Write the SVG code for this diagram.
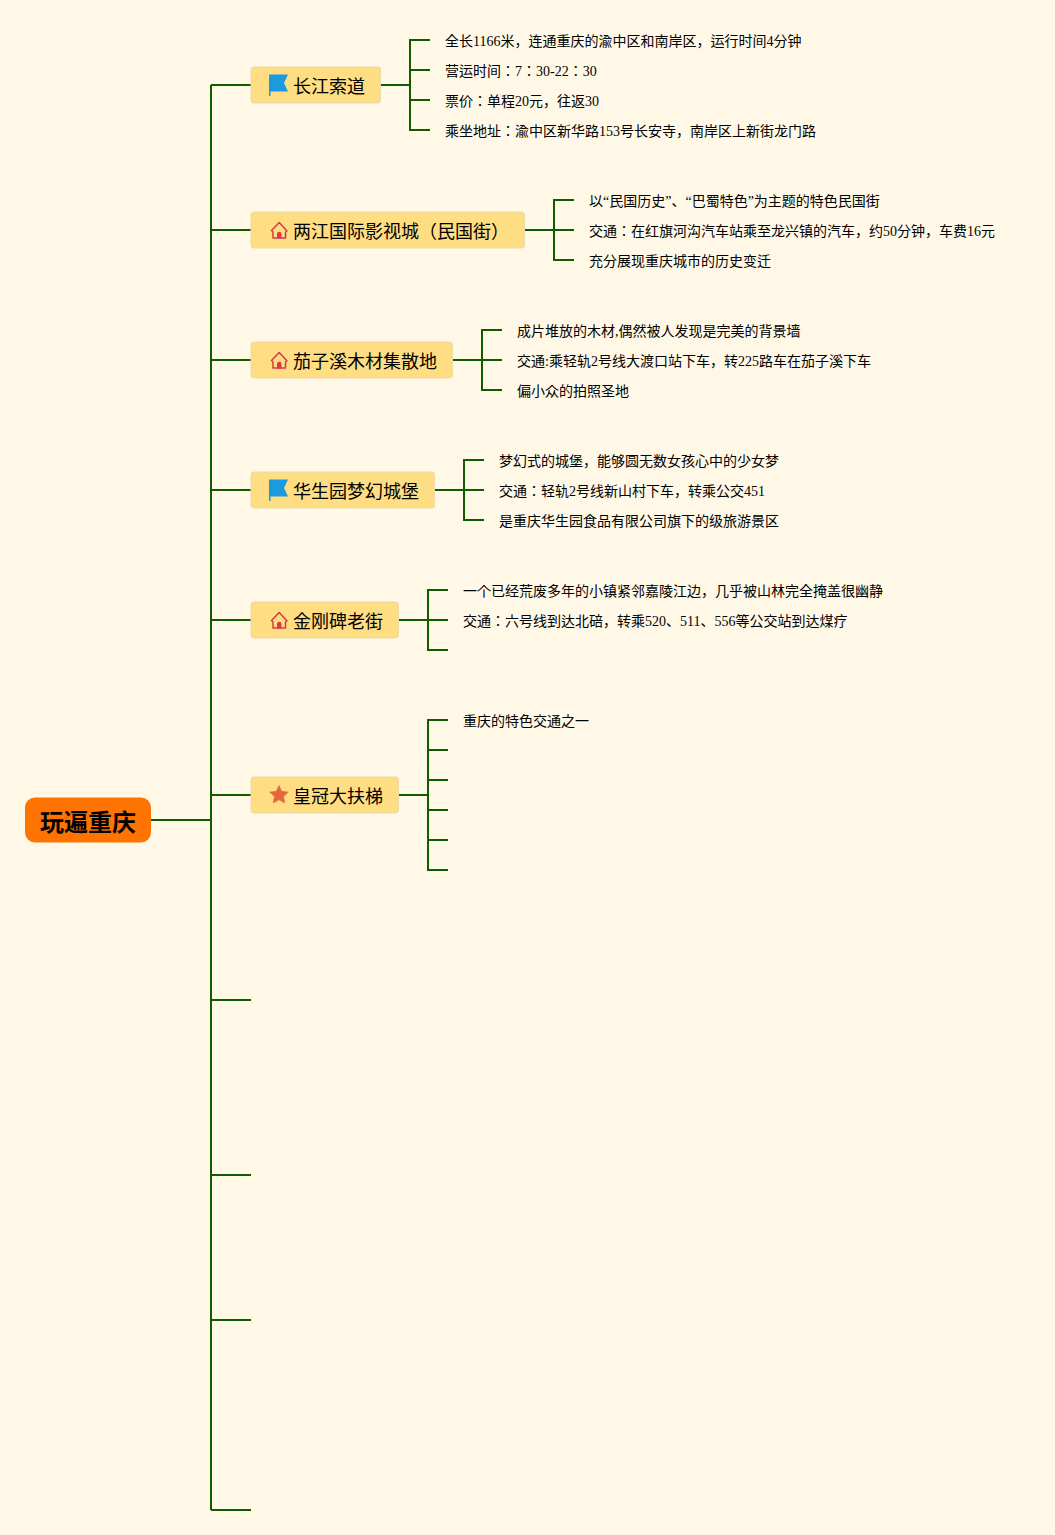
<svg xmlns="http://www.w3.org/2000/svg" width="1055" height="1535" viewBox="0 0 1055 1535">
<style>
.c{fill:none;stroke:#125c00;stroke-width:2}
.n{fill:#fedd83;stroke:#e8d9a6;stroke-width:1}
.r{fill:#ff7300}
text{font-family:"Liberation Serif","Noto Sans CJK JP",serif;fill:#000}
.t{font-size:18px;font-family:"Noto Sans CJK JP","Liberation Sans",sans-serif}
.l{font-size:14px}
.b{font-size:24px;font-weight:700;font-family:"Noto Sans CJK JP","Liberation Sans",sans-serif}
.h{fill:none;stroke:#d93a48;stroke-width:1.500;stroke-linejoin:round}
</style>
<defs>
<g id="flag"><path d="M0 0H19L15 8.500L19 17H1.500V21.500H0Z" fill="#1b9ae0"/></g>
<g id="house"><path d="M1 9L8.700 1L16.500 9.500L15 10.500V16.500H2.500V10.500Z" class="h"/><path d="M6.500 17V12.500A2.200 2.200 0 0 1 11 12.500V17Z" fill="#d93a48"/></g>
<path id="star" d="M9 0L11.700 5.800L18.300 6.600L13.500 11.100L14.800 17.500L9 14.300L3.200 17.500L4.500 11.100L-.3 6.600L6.300 5.800Z" fill="#e5673a" stroke="#e5673a" stroke-width=".6" stroke-linejoin="round"/>
</defs>
<rect width="1055" height="1535" fill="#fff8e6"/>
<g id="connectors">
<path class="c" d="M151 820H211M211 85V1510M211 85H251M211 230H251M211 360H251M211 490H251M211 620H251M211 795H251M211 1000H251M211 1175H251M211 1320H251M211 1510H251"/>
<path class="c" d="M381 85H410M430 40H410V130H430M410 70H430M410 100H430"/>
<path class="c" d="M525 230H574M574 200H554V260H574"/>
<path class="c" d="M453 360H502M502 330H482V390H502"/>
<path class="c" d="M435 490H484M484 460H464V520H484"/>
<path class="c" d="M399 620H448M448 590H428V650H448"/>
<path class="c" d="M399 795H428M448 720H428V870H448M428 750H448M428 780H448M428 810H448M428 840H448"/>
</g>
<g id="root"><rect class="r" x="25" y="797.500" width="126" height="45" rx="10"/><text class="b" x="40" y="831">玩遍重庆</text></g>
<g id="n1"><rect class="n" x="251" y="67" width="129.500" height="36" rx="3"/><use href="#flag" x="269" y="74.500"/><text class="t" x="293" y="93">长江索道</text></g>
<g id="n2"><rect class="n" x="251" y="212" width="273.500" height="36" rx="3"/><use href="#house" x="270.500" y="221.500"/><text class="t" x="293" y="238">两江国际影视城（民国街）</text></g>
<g id="n3"><rect class="n" x="251" y="342" width="201.500" height="36" rx="3"/><use href="#house" x="270.500" y="351.500"/><text class="t" x="293" y="368">茄子溪木材集散地</text></g>
<g id="n4"><rect class="n" x="251" y="472" width="183.500" height="36" rx="3"/><use href="#flag" x="269" y="479.500"/><text class="t" x="293" y="498">华生园梦幻城堡</text></g>
<g id="n5"><rect class="n" x="251" y="602" width="147.500" height="36" rx="3"/><use href="#house" x="270.500" y="611.500"/><text class="t" x="293" y="628">金刚碑老街</text></g>
<g id="n6"><rect class="n" x="251" y="777" width="147.500" height="36" rx="3"/><use href="#star" x="270" y="785.500"/><text class="t" x="293" y="803">皇冠大扶梯</text></g>
<g id="leaves1">
<text class="l" x="445" y="46">全长1166米，连通重庆的渝中区和南岸区，运行时间4分钟</text>
<text class="l" x="445" y="76">营运时间：7：30-22：30</text>
<text class="l" x="445" y="106">票价：单程20元，往返30</text>
<text class="l" x="445" y="136">乘坐地址：渝中区新华路153号长安寺，南岸区上新街龙门路</text>
</g>
<g id="leaves2">
<text class="l" x="589" y="206">以“民国历史”、“巴蜀特色”为主题的特色民国街</text>
<text class="l" x="589" y="236">交通：在红旗河沟汽车站乘至龙兴镇的汽车，约50分钟，车费16元</text>
<text class="l" x="589" y="266">充分展现重庆城市的历史变迁</text>
</g>
<g id="leaves3">
<text class="l" x="517" y="336">成片堆放的木材,偶然被人发现是完美的背景墙</text>
<text class="l" x="517" y="366">交通:乘轻轨2号线大渡口站下车，转225路车在茄子溪下车</text>
<text class="l" x="517" y="396">偏小众的拍照圣地</text>
</g>
<g id="leaves4">
<text class="l" x="499" y="466">梦幻式的城堡，能够圆无数女孩心中的少女梦</text>
<text class="l" x="499" y="496">交通：轻轨2号线新山村下车，转乘公交451</text>
<text class="l" x="499" y="526">是重庆华生园食品有限公司旗下的级旅游景区</text>
</g>
<g id="leaves5">
<text class="l" x="463" y="596">一个已经荒废多年的小镇紧邻嘉陵江边，几乎被山林完全掩盖很幽静</text>
<text class="l" x="463" y="626">交通：六号线到达北碚，转乘520、511、556等公交站到达煤疗</text>
</g>
<g id="leaves6">
<text class="l" x="463" y="726">重庆的特色交通之一</text>
</g>
</svg>
